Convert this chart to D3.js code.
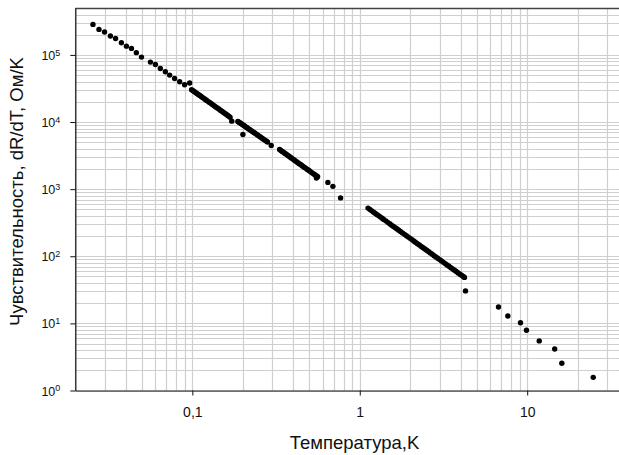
<!DOCTYPE html>
<html>
<head>
<meta charset="utf-8">
<script src="https://cdn.jsdelivr.net/npm/d3@7"></script>
<style>
  html, body { margin: 0; padding: 0; background: #fff; }
  svg { display: block; font-family: "Liberation Sans", Arial, sans-serif; }
</style>
</head>
<body>
<div id="chart"></div>
<script>
// temperature, K
var tempK = [
  0.0255, 0.0277, 0.0299, 0.0324, 0.0348, 0.0377, 0.0404, 0.0433, 0.0463, 0.0497,
  0.0562, 0.0602, 0.0644, 0.0690, 0.0732, 0.0784, 0.0840, 0.0899, 0.0964,
  0.099, 0.101, 0.103, 0.105, 0.107, 0.109, 0.111, 0.113, 0.115, 0.118, 0.120, 0.122,
  0.125, 0.127, 0.130, 0.132, 0.135, 0.138, 0.141, 0.144, 0.147, 0.150, 0.153, 0.156,
  0.159, 0.162, 0.165, 0.168, 0.172,
  0.187, 0.190, 0.193, 0.196, 0.199, 0.2005, 0.203, 0.206, 0.210, 0.213, 0.217, 0.221,
  0.225, 0.229, 0.233, 0.237, 0.242, 0.246, 0.251, 0.256, 0.261, 0.266, 0.271, 0.276,
  0.281, 0.296,
  0.332, 0.338, 0.344, 0.350, 0.356, 0.362, 0.369, 0.376, 0.383, 0.390, 0.397, 0.404,
  0.411, 0.419, 0.427, 0.435, 0.443, 0.451, 0.459, 0.468, 0.477, 0.486, 0.495, 0.504,
  0.514, 0.524, 0.534, 0.544, 0.551, 0.553, 0.560,
  0.645, 0.691, 0.768,
  1.12, 1.15, 1.18, 1.21, 1.24, 1.27, 1.30, 1.33, 1.36, 1.39, 1.43, 1.47, 1.51, 1.55,
  1.59, 1.63, 1.67, 1.71, 1.75, 1.80, 1.85, 1.90, 1.95, 2.00, 2.05, 2.10, 2.15, 2.21,
  2.27, 2.33, 2.39, 2.45, 2.51, 2.57, 2.64, 2.71, 2.78, 2.85, 2.92, 3.00, 3.08, 3.16,
  3.24, 3.32, 3.41, 3.50, 3.59, 3.68, 3.77, 3.87, 3.97, 4.07, 4.17, 4.22, 4.28,
  6.74, 7.66, 9.12, 9.90, 11.8, 14.6, 16.1, 24.8
];

// sensitivity dR/dT, Ohm/K
var sensitivity = [
  2.85e5, 2.40e5, 2.19e5, 1.91e5, 1.76e5, 1.52e5, 1.35e5, 1.25e5, 1.08e5, 9.27e4,
  7.81e4, 7.21e4, 6.29e4, 5.61e4, 5.00e4, 4.46e4, 3.98e4, 3.59e4, 3.82e4,
  3.03e4, 2.93e4, 2.83e4, 2.73e4, 2.64e4, 2.56e4, 2.48e4, 2.40e4, 2.32e4, 2.22e4, 2.15e4, 2.09e4,
  2.00e4, 1.95e4, 1.87e4, 1.82e4, 1.75e4, 1.68e4, 1.62e4, 1.56e4, 1.50e4, 1.45e4, 1.40e4, 1.35e4,
  1.31e4, 1.26e4, 1.22e4, 1.18e4, 1.03e4,
  1.02e4, 9.94e3, 9.67e3, 9.42e3, 9.18e3, 6.51e3, 8.87e3, 8.65e3, 8.36e3, 8.16e3, 7.90e3, 7.66e3,
  7.42e3, 7.20e3, 6.99e3, 6.79e3, 6.54e3, 6.36e3, 6.14e3, 5.94e3, 5.74e3, 5.56e3, 5.38e3, 5.21e3,
  5.05e3, 4.46e3,
  3.89e3, 3.77e3, 3.65e3, 3.54e3, 3.43e3, 3.34e3, 3.22e3, 3.12e3, 3.02e3, 2.92e3, 2.83e3, 2.74e3,
  2.66e3, 2.57e3, 2.48e3, 2.40e3, 2.33e3, 2.25e3, 2.18e3, 2.11e3, 2.04e3, 1.97e3, 1.91e3, 1.85e3,
  1.78e3, 1.72e3, 1.67e3, 1.61e3, 1.46e3, 1.57e3, 1.53e3,
  1.26e3, 1.10e3, 740,
  522, 498, 475, 454, 435, 417, 400, 383, 369, 354, 337, 320, 305, 291,
  278, 266, 255, 244, 234, 223, 212, 202, 193, 185, 177, 169, 162, 154,
  147, 140, 134, 128, 123, 118, 112, 107, 102, 97.8, 93.6, 89.2, 85.1, 81.2,
  77.7, 74.4, 70.9, 67.7, 64.6, 61.8, 59.2, 56.5, 54.0, 51.6, 49.4, 48.4, 30.5,
  17.5, 12.9, 10.2, 7.91, 5.48, 4.16, 2.55, 1.57
];

var xTickValues = [0.1, 1, 10];
var xTickLabels = ["0,1", "1", "10"];
var yTickValues = [1, 10, 100, 1000, 10000, 100000];
var yTickExponents = ["0", "1", "2", "3", "4", "5"];

var xTitle = "Температура,K";
var yTitle = "Чувствительность, dR/dT,  Ом/K";

var width = 619, height = 455;
var margin = {top: 8, left: 75.3, bottom: 64.5};
var plotBottom = height - margin.bottom;
var plotRight = 628;

var svg = d3.select("#chart").append("svg")
    .attr("width", width)
    .attr("height", height);

var x = d3.scaleLog().domain([0.02, 40]).range([margin.left, plotRight]);
var y = d3.scaleLog().domain([1, 5e5]).range([plotBottom, margin.top]);

// grid
var grid = svg.append("g").attr("class", "grid");
grid.selectAll("line.gx")
    .data(x.ticks())
    .enter().append("line")
    .attr("class", "gx")
    .attr("x1", function(d) { return Math.round(x(d)) + 0.5; })
    .attr("x2", function(d) { return Math.round(x(d)) + 0.5; })
    .attr("y1", margin.top)
    .attr("y2", plotBottom)
    .attr("stroke", "#cfcfcf")
    .attr("stroke-width", 1.2);

grid.selectAll("line.gy")
    .data(y.ticks())
    .enter().append("line")
    .attr("class", "gy")
    .attr("x1", margin.left)
    .attr("x2", plotRight)
    .attr("y1", function(d) { return Math.round(y(d)) + 0.5; })
    .attr("y2", function(d) { return Math.round(y(d)) + 0.5; })
    .attr("stroke", "#cfcfcf")
    .attr("stroke-width", 1.2);

// top border
svg.append("line")
    .attr("x1", margin.left).attr("x2", plotRight)
    .attr("y1", margin.top + 0.5).attr("y2", margin.top + 0.5)
    .attr("stroke", "#444").attr("stroke-width", 1.3);

// x axis
var xAxis = svg.append("g")
    .attr("transform", "translate(0," + plotBottom + ")")
    .call(d3.axisBottom(x).tickValues(xTickValues).tickSize(5).tickSizeOuter(0)
        .tickFormat(function(d, i) { return xTickLabels[i]; }));
xAxis.select(".domain").attr("stroke", "#111").attr("stroke-width", 1.2);
xAxis.selectAll(".tick line").attr("stroke", "#111");
xAxis.selectAll(".tick text")
    .attr("y", 17)
    .attr("font-size", 14)
    .attr("font-family", "Liberation Sans, Arial, sans-serif")
    .attr("fill", "#111");

// y axis
var yAxis = svg.append("g")
    .attr("transform", "translate(" + margin.left + ",0)")
    .call(d3.axisLeft(y).tickValues(yTickValues).tickSize(5).tickSizeOuter(0)
        .tickFormat(function() { return ""; }));
yAxis.select(".domain").attr("stroke", "#111").attr("stroke-width", 1.2);
yAxis.selectAll(".tick line").attr("stroke", "#111");
yAxis.selectAll(".tick text").remove();
yAxis.selectAll(".tick").each(function(d, i) {
    var t = d3.select(this).append("text")
        .attr("x", -15)
        .attr("dy", "0.36em")
        .attr("text-anchor", "end")
        .attr("font-size", 12.5)
        .attr("font-family", "Liberation Sans, Arial, sans-serif")
        .attr("fill", "#111");
    t.append("tspan").text("10");
    t.append("tspan").attr("dy", "-0.45em").attr("font-size", 9).text(yTickExponents[i]);
});

// axis titles
svg.append("text")
    .attr("x", 354.5)
    .attr("y", 449)
    .attr("text-anchor", "middle")
    .attr("font-size", 18.5)
    .attr("fill", "#111")
    .text(xTitle);

svg.append("text")
    .attr("transform", "translate(23," + 191.5 + ") rotate(-90)")
    .attr("text-anchor", "middle")
    .attr("font-size", 18.5)
    .attr("fill", "#111")
    .text(yTitle);

// points
svg.append("g").selectAll("circle")
    .data(tempK)
    .enter().append("circle")
    .attr("cx", function(d) { return x(d); })
    .attr("cy", function(d, i) { return y(sensitivity[i]); })
    .attr("r", 2.7)
    .attr("fill", "#000");
</script>
</body>
</html>
